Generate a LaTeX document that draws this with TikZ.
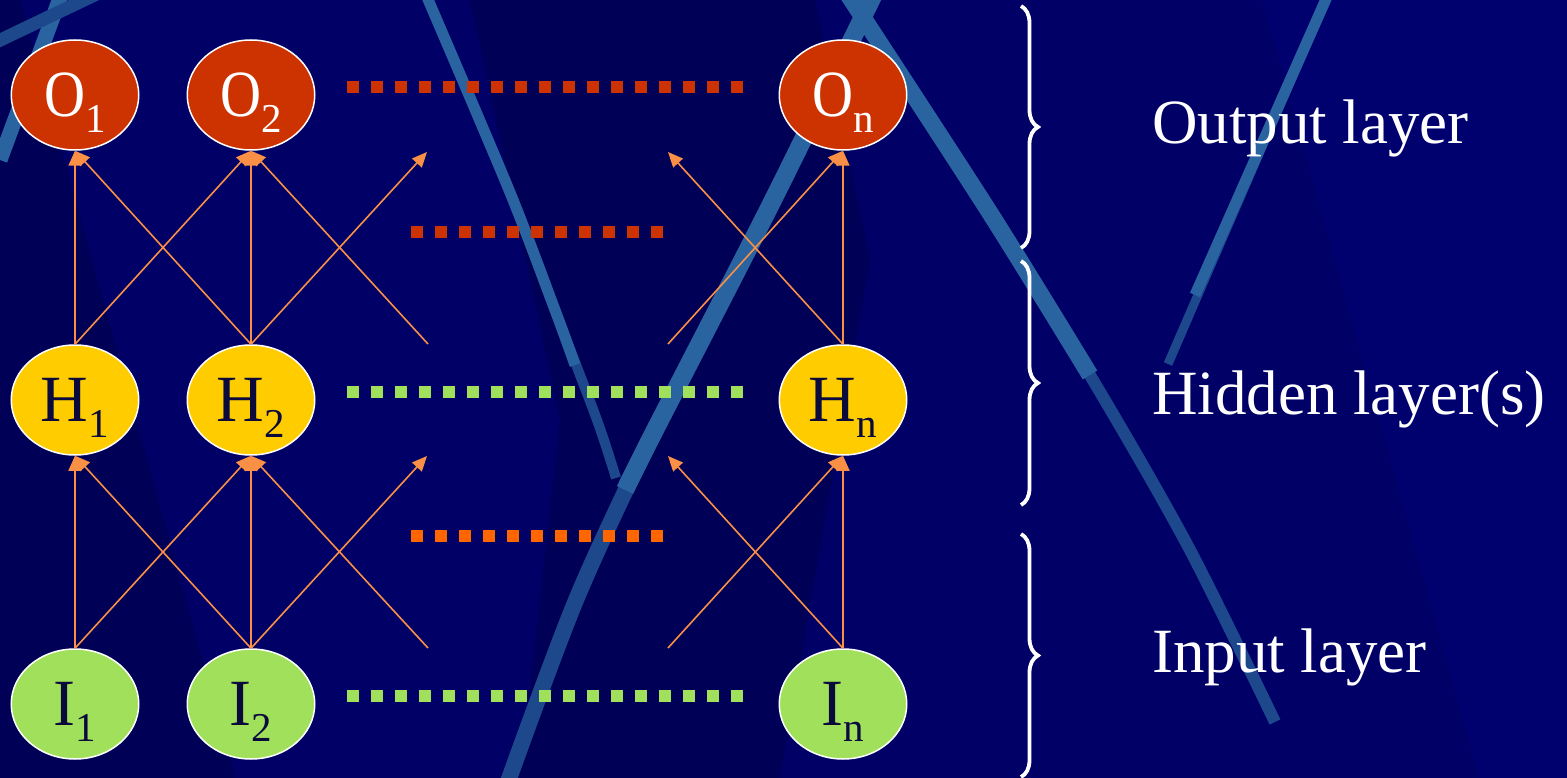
\documentclass[tikz,border=0pt]{standalone}
\usepackage{fontspec}
\setmainfont{Liberation Serif}
\usetikzlibrary{arrows.meta,decorations.pathreplacing,shapes.geometric}

\definecolor{bgbase}{RGB}{0,0,102}
\definecolor{bgdark}{RGB}{0,0,86}
\definecolor{bglight}{RGB}{0,0,110}
\definecolor{stripe}{RGB}{42,100,160}
\definecolor{stripedim}{RGB}{30,72,140}
\definecolor{outred}{RGB}{204,51,0}
\definecolor{hidyel}{RGB}{255,204,0}
\definecolor{ingreen}{RGB}{160,224,90}
\definecolor{arroworange}{RGB}{250,144,70}
\definecolor{dotorange}{RGB}{255,102,0}
\definecolor{navytext}{RGB}{10,10,60}

\newcommand{\nlabel}[3][1]{{\fontsize{66}{66}\selectfont\scalebox{#1}[1]{#2}}\raisebox{-16pt}{\fontsize{41}{41}\selectfont #3}}

\tikzset{
  neuron/.style={ellipse, draw=white, line width=1.5pt, minimum width=127.5pt,
    minimum height=110pt, inner sep=0pt, text depth=0pt},
  outn/.style={neuron, fill=outred, text=white},
  hidn/.style={neuron, fill=hidyel, text=navytext},
  inn/.style={neuron, fill=ingreen, text=navytext},
  conn/.style={draw=arroworange, line width=1.6pt, -{Triangle[length=15pt,width=13pt]}},
  dotrow/.style={line width=12pt, dash pattern=on 12pt off 12pt},
  layerlabel/.style={text=white, font=\fontsize{63}{63}\selectfont, anchor=base west, inner sep=0pt},
  bracestyle/.style={draw=white, line width=3.8pt, decorate, decoration={brace, amplitude=17pt}},
  bgstripe/.style={line cap=butt, line join=round}
}

\begin{document}
\begin{tikzpicture}[x=1pt,y=-1pt]
\useasboundingbox (0,0) rectangle (1567,778);
\begin{scope}
\clip (0,0) rectangle (1567,778);
\fill[bgbase] (0,0) rectangle (1567,778);
% subtle background panels
\fill[bgdark] (0,0) -- (20,0) -- (235,778) -- (0,778) -- cycle;
\fill[bgdark] (470,0) -- (815,0) -- (870,260) -- (780,778) -- (520,778) -- (560,420) -- cycle;
\fill[bglight] (1262,0) -- (1567,0) -- (1567,778) -- (1479,778) -- cycle;
% light stripes
\draw[bgstripe, stripe, line width=15pt] (63,-10) -- (0,160);
\draw[bgstripe, stripedim, line width=13pt] (105,-10) -- (-10,45);
\draw[bgstripe, stripedim, line width=10pt] plot[smooth] coordinates {(424,-10) (509,190) (555,310) (597,420) (616,478)};
\draw[bgstripe, stripe, line width=11pt] plot[smooth] coordinates {(424,-10) (509,190) (555,310) (575,365)};
\draw[bgstripe, stripedim, line width=16pt] plot[smooth] coordinates {(876,-10) (773,200) (655,430) (576,600) (505,790)};
\draw[bgstripe, stripe, line width=18pt] plot[smooth] coordinates {(876,-10) (773,200) (655,430) (625,490)};
\draw[bgstripe, stripedim, line width=12pt] plot[smooth] coordinates {(845,-10) (990,213) (1100,392) (1190,550) (1275,722)};
\draw[bgstripe, stripe, line width=17pt] plot[smooth] coordinates {(845,-10) (990,213) (1090,375)};
\draw[bgstripe, stripedim, line width=9pt] (1330,-10) -- (1168,364);
\draw[bgstripe, stripe, line width=11pt] (1330,-10) -- (1195,295);
\end{scope}

% dotted rows
\draw[dotrow, outred] (347,87.5) -- (743,87.5);
\draw[dotrow, outred] (411,232) -- (663,232);
\draw[dotrow, ingreen] (347,392) -- (743,392);
\draw[dotrow, dotorange] (411,536) -- (663,536);
\draw[dotrow, ingreen] (347,696) -- (743,696);

% neurons
\node[outn] (O1) at (75,95) {\nlabel[0.86]{O}{1}};
\node[outn] (O2) at (251,95) {\nlabel[0.86]{O}{2}};
\node[outn] (On) at (843,95) {\nlabel[0.86]{O}{n}};
\node[hidn] (H1) at (75,400) {\nlabel{H}{1}};
\node[hidn] (H2) at (251,400) {\nlabel{H}{2}};
\node[hidn] (Hn) at (843,400) {\nlabel{H}{n}};
\node[inn] (I1) at (75,704) {\nlabel{I}{1}};
\node[inn] (I2) at (251,704) {\nlabel{I}{2}};
\node[inn] (In) at (843,704) {\nlabel{I}{n}};

% free ends
\coordinate (uOa) at (427,152);
\coordinate (uOb) at (668,152);
\coordinate (uHa) at (428,344);
\coordinate (uHb) at (668,344);
\coordinate (lHa) at (427,456);
\coordinate (lHb) at (668,456);
\coordinate (lIa) at (428,648);
\coordinate (lIb) at (668,648);

% hidden -> output
\draw[conn] (H1.north) -- (O1.south);
\draw[conn] (H1.north) -- (O2.south);
\draw[conn] (H2.north) -- (O1.south);
\draw[conn] (H2.north) -- (O2.south);
\draw[conn] (H2.north) -- (uOa);
\draw[conn] (uHa) -- (O2.south);
\draw[conn] (uHb) -- (On.south);
\draw[conn] (Hn.north) -- (uOb);
\draw[conn] (Hn.north) -- (On.south);

% input -> hidden
\draw[conn] (I1.north) -- (H1.south);
\draw[conn] (I1.north) -- (H2.south);
\draw[conn] (I2.north) -- (H1.south);
\draw[conn] (I2.north) -- (H2.south);
\draw[conn] (I2.north) -- (lHa);
\draw[conn] (lIa) -- (H2.south);
\draw[conn] (lIb) -- (Hn.south);
\draw[conn] (In.north) -- (lHb);
\draw[conn] (In.north) -- (Hn.south);

% braces
\coordinate (b1t) at (1021,6);
\coordinate (b1b) at (1021,248);
\coordinate (b2t) at (1021,261);
\coordinate (b2b) at (1021,505);
\coordinate (b3t) at (1021,534);
\coordinate (b3b) at (1021,777);
\draw[bracestyle] (b1t) -- (b1b);
\draw[bracestyle] (b2t) -- (b2b);
\draw[bracestyle] (b3t) -- (b3b);

% layer labels
\node[layerlabel] (lout) at (1152,144) {Output layer};
\node[layerlabel] (lhid) at (1152,414) {Hidden layer(s)};
\node[layerlabel] (linp) at (1152,672) {Input layer};
\end{tikzpicture}
\end{document}
